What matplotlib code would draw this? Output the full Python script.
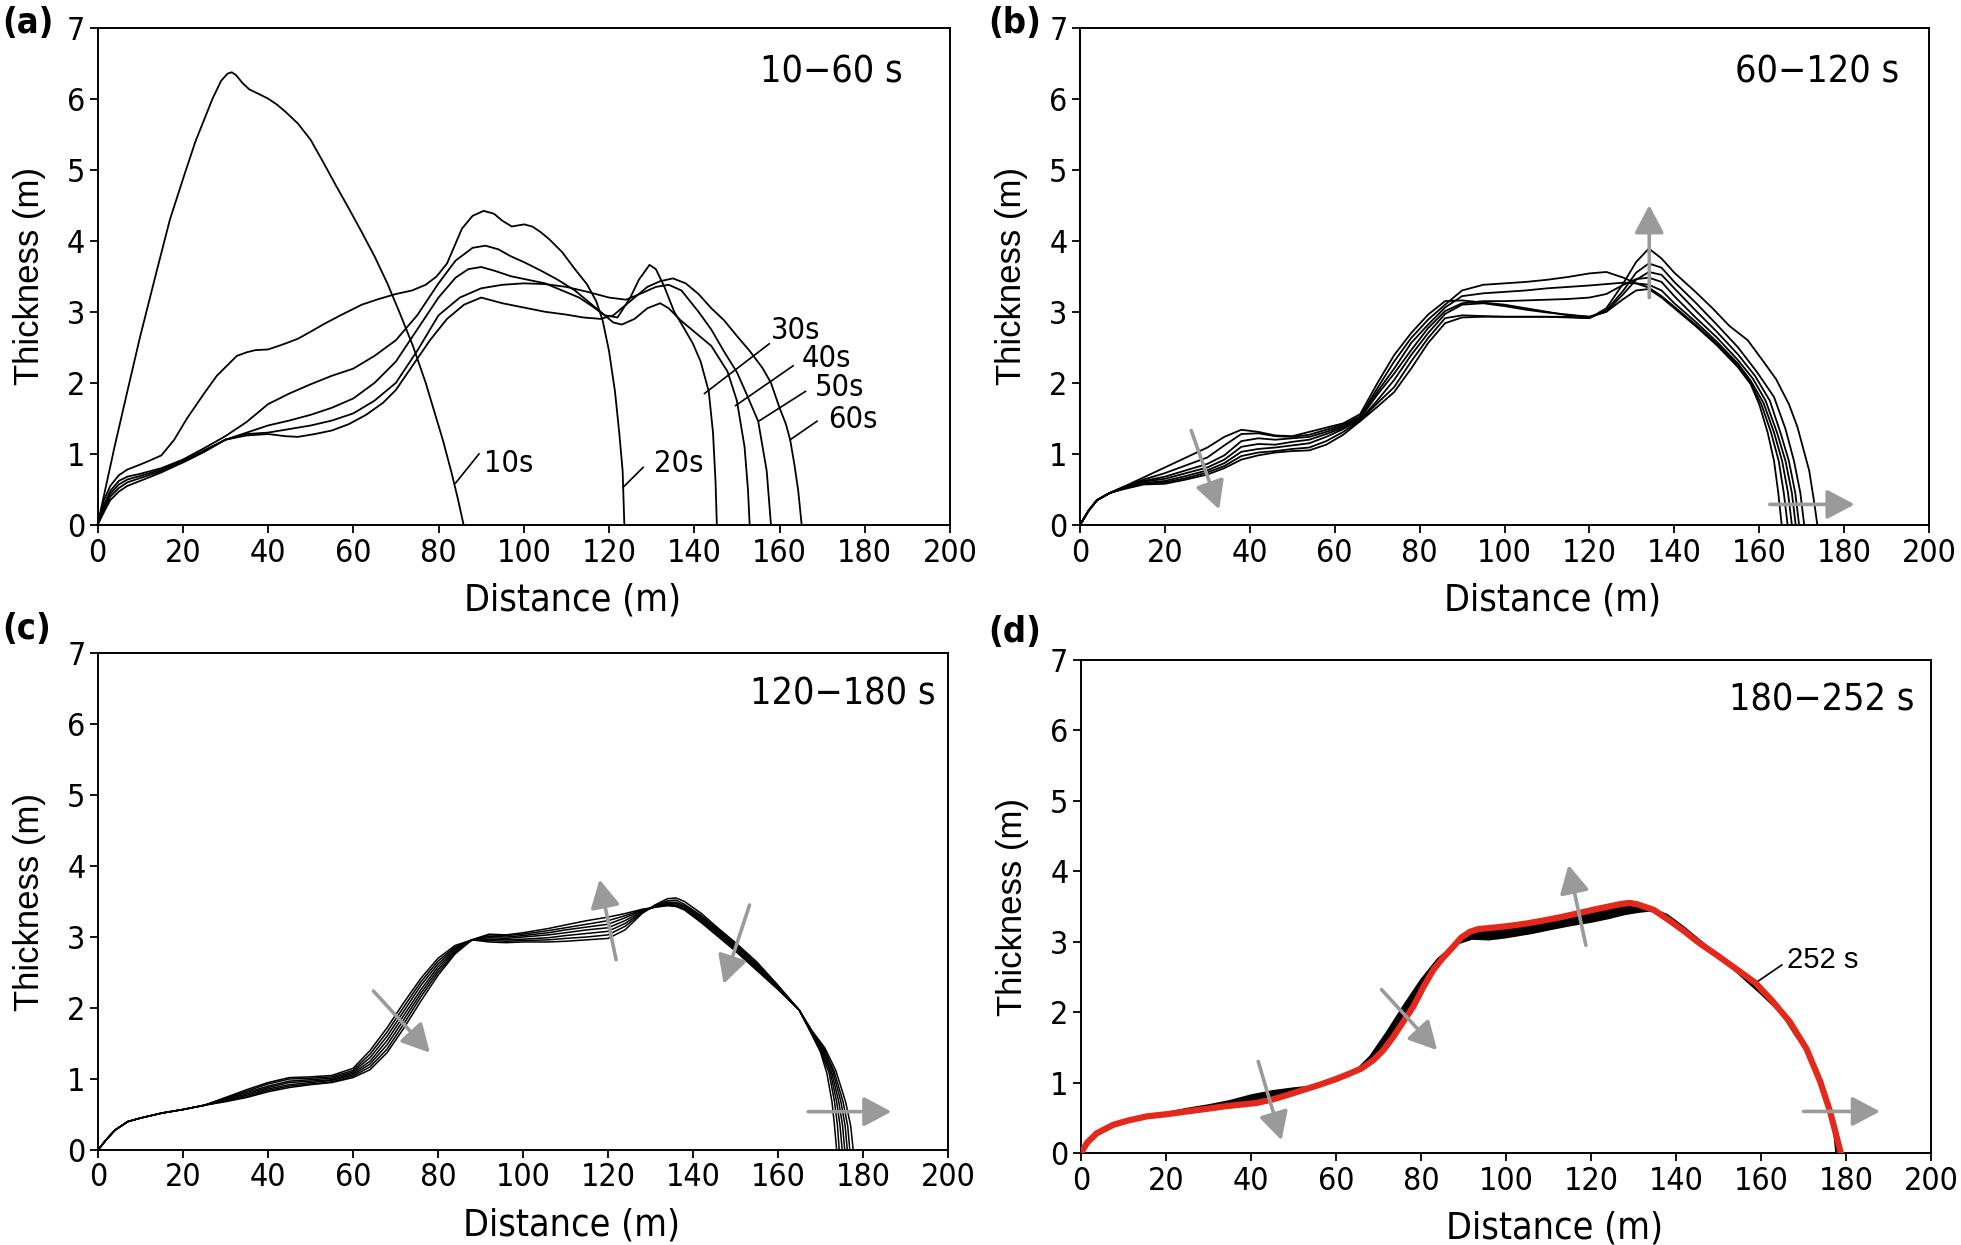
import matplotlib
matplotlib.use('Agg')
import matplotlib.pyplot as plt
import numpy as np

narrow = ['DejaVu Sans']
wide = ['Liberation Sans', 'DejaVu Sans']
plt.rcParams['font.family'] = narrow
plt.rcParams['font.stretch'] = 'condensed'

# ---------------- (a) 10-60 s ----------------
a_labels = ['10s', '20s', '30s', '40s', '50s', '60s']
a_x = [
    [0, 2, 4, 7, 10, 14, 17, 20.5, 23, 25, 27, 29, 30.5, 31.5, 32.5, 34, 35.6, 38, 40, 42,
     44, 47, 50, 53, 56, 59, 62, 65, 68, 71, 74, 77, 79, 81, 83, 84.5, 85.9],
    [0, 1.5, 3, 5, 7, 10, 12, 15, 18, 21, 25, 28, 32.7, 35, 37, 40, 43, 47, 50, 53.2,
     57, 62, 66, 70, 73.8, 77, 79.6, 82, 85.5, 88, 90.6, 93, 95, 97.2, 100.1,
     102, 104, 106, 109, 112, 114.8, 117, 118.5, 120, 121.4, 122.4, 123.2, 123.6],
    [0, 1, 2, 3, 5, 7, 10, 15, 20, 25, 30, 35, 40, 45, 50, 55, 60, 65, 70, 75,
     80, 84, 88, 91, 94, 97, 100, 104, 108, 112, 116, 119, 122, 125, 127,
     129.5, 131, 133, 135.3, 137.5, 139.7, 141.5, 143.4, 144.4, 145, 145.3],
    [0, 1, 2, 3, 5, 7, 10, 15, 20, 25, 30, 35, 40, 45, 50, 55, 60, 65, 70, 75,
     80, 84, 87, 90, 93, 97, 101, 105, 109, 113, 116, 119, 121, 123, 126,
     129, 132, 134, 136.8, 140, 144, 147.8, 150, 151.8, 152.6, 153],
    [0, 1, 2, 3, 5, 7, 10, 15, 20, 25, 30, 35, 40, 45, 50, 55, 60, 65, 70, 75,
     80, 85, 90, 95, 100, 105, 110, 115, 120, 124, 128, 131, 134, 137, 141,
     144, 147, 150, 152, 155, 157, 158],
    [0, 1, 2, 3, 5, 7, 10, 15, 20, 25, 30, 35, 40, 44, 47, 51, 55, 59, 63, 67,
     70, 74, 78, 82, 86, 90, 95, 100, 105, 110, 114, 118, 121, 125, 129,
     132, 135, 138, 141, 144, 147, 150, 153, 156, 158, 160, 161.5, 162.5, 163.5, 164.4, 165.2],
]
a_y = [
    [0, 0.55, 1.1, 1.88, 2.65, 3.6, 4.3, 4.95, 5.4, 5.7, 6.0, 6.25, 6.35, 6.37, 6.33, 6.22, 6.13, 6.06, 6.0, 5.92,
     5.82, 5.65, 5.42, 5.1, 4.77, 4.45, 4.12, 3.78, 3.4, 2.97, 2.52, 2.0, 1.6, 1.2, 0.75, 0.38, 0],
    [0, 0.35, 0.55, 0.7, 0.78, 0.85, 0.9, 0.98, 1.2, 1.5, 1.85, 2.1, 2.38, 2.43, 2.46, 2.47, 2.53, 2.62, 2.72, 2.83,
     2.95, 3.1, 3.18, 3.25, 3.3, 3.38, 3.5, 3.68, 4.17, 4.35, 4.42, 4.38, 4.28, 4.2, 4.23,
     4.2, 4.12, 4.02, 3.84, 3.6, 3.39, 3.15, 2.88, 2.45, 1.88, 1.3, 0.76, 0],
    [0, 0.2, 0.35, 0.48, 0.62, 0.68, 0.72, 0.8, 0.92, 1.08, 1.25, 1.45, 1.7, 1.85, 1.98, 2.1, 2.2, 2.38, 2.6, 2.95,
     3.4, 3.72, 3.9, 3.93, 3.88, 3.78, 3.7, 3.58, 3.45, 3.3, 3.1, 2.95, 2.92, 3.2, 3.45,
     3.66, 3.6, 3.35, 3.0, 2.78, 2.55, 2.3, 1.88, 1.3, 0.6, 0],
    [0, 0.18, 0.32, 0.44, 0.57, 0.64, 0.69, 0.78, 0.9, 1.05, 1.2, 1.3, 1.4, 1.47, 1.55, 1.65, 1.78, 2.0, 2.3, 2.75,
     3.2, 3.48, 3.6, 3.63, 3.58, 3.5, 3.45, 3.4, 3.3, 3.2, 3.08, 2.95, 2.85, 2.82, 2.9,
     3.05, 3.12, 3.05, 2.88, 2.72, 2.52, 2.16, 1.75, 1.1, 0.5, 0],
    [0, 0.15, 0.28, 0.4, 0.52, 0.6, 0.66, 0.76, 0.88, 1.03, 1.2, 1.28, 1.3, 1.35, 1.4, 1.47, 1.57, 1.75, 2.0, 2.45,
     2.95, 3.2, 3.33, 3.38, 3.4, 3.39, 3.35, 3.28, 3.2, 3.17, 3.27, 3.35, 3.38, 3.3, 3.0,
     2.75, 2.44, 2.15, 1.88, 1.46, 0.76, 0],
    [0, 0.12, 0.24, 0.35, 0.47, 0.55, 0.62, 0.74, 0.88, 1.03, 1.2, 1.26, 1.28, 1.25, 1.24, 1.28, 1.33, 1.42, 1.55, 1.72,
     1.9, 2.25, 2.6, 2.9, 3.1, 3.2, 3.12, 3.06, 3.0, 2.96, 2.92, 2.9, 2.95, 3.15, 3.35,
     3.43, 3.47, 3.4, 3.25, 3.05, 2.88, 2.66, 2.45, 2.21, 2.0, 1.65, 1.42, 1.2, 0.85, 0.48, 0],
]

# ---------------- (b) 60-120 s, every 10 s ----------------
b_grid = [0, 2, 4, 7, 10, 15, 20, 25, 30, 34, 38, 42, 46, 50, 54, 58, 62, 66, 70, 74,
          78, 82, 86, 90, 95, 100, 105, 110, 115, 120, 124, 128, 131, 134]
b_start = [0, 0.2, 0.35, 0.45]
b_body = [
    [0.53, 0.67, 0.81, 0.95, 1.09, 1.24, 1.34, 1.31, 1.26, 1.25, 1.31, 1.37, 1.43, 1.56, 1.99, 2.39, 2.70, 2.96, 3.15, 3.16,
     3.13, 3.10, 3.05, 3.00, 2.95, 2.93, 3.00, 3.18, 3.30, 3.32],
    [0.53, 0.64, 0.73, 0.84, 0.95, 1.12, 1.28, 1.29, 1.25, 1.24, 1.27, 1.34, 1.41, 1.53, 1.92, 2.30, 2.63, 2.89, 3.10, 3.30,
     3.38, 3.40, 3.42, 3.45, 3.49, 3.54, 3.56, 3.48, 3.40, 3.34],
    [0.52, 0.62, 0.68, 0.77, 0.86, 0.98, 1.18, 1.22, 1.20, 1.22, 1.24, 1.31, 1.39, 1.51, 1.87, 2.20, 2.56, 2.82, 3.06, 3.22,
     3.26, 3.28, 3.30, 3.33, 3.35, 3.37, 3.39, 3.41, 3.40, 3.38],
    [0.52, 0.61, 0.65, 0.73, 0.81, 0.92, 1.10, 1.14, 1.13, 1.17, 1.20, 1.28, 1.37, 1.50, 1.83, 2.13, 2.46, 2.77, 3.01, 3.12,
     3.15, 3.15, 3.16, 3.17, 3.18, 3.20, 3.25, 3.38, 3.46, 3.48],
    [0.51, 0.59, 0.62, 0.69, 0.77, 0.87, 1.03, 1.07, 1.09, 1.12, 1.15, 1.24, 1.35, 1.48, 1.75, 2.04, 2.39, 2.70, 2.97, 3.10,
     3.12, 3.08, 3.03, 2.99, 2.96, 2.93, 3.00, 3.25, 3.45, 3.56],
    [0.51, 0.58, 0.60, 0.66, 0.74, 0.83, 0.97, 1.02, 1.04, 1.07, 1.09, 1.18, 1.31, 1.47, 1.71, 1.94, 2.30, 2.63, 2.91, 2.95,
     2.94, 2.93, 2.93, 2.93, 2.93, 2.91, 3.02, 3.30, 3.55, 3.68],
    [0.50, 0.57, 0.58, 0.64, 0.71, 0.80, 0.92, 0.98, 1.02, 1.04, 1.05, 1.13, 1.27, 1.46, 1.66, 1.87, 2.20, 2.56, 2.84, 2.92,
     2.93, 2.93, 2.93, 2.93, 2.92, 2.91, 3.05, 3.40, 3.70, 3.89],
]
b_tail_x = [
    [137, 140, 145, 150, 155, 158, 160, 162, 163.5, 164.5, 165.3],
    [137, 140, 145, 150, 155, 158, 160.5, 162.8, 164.6, 165.8, 166.7],
    [137, 140, 145, 150, 155, 158, 161, 163.5, 165.4, 166.8, 167.7],
    [137, 140, 145, 150, 155, 158.5, 161.5, 164.2, 166.2, 167.7, 168.6],
    [137, 140, 145, 150, 155, 159, 162.5, 165, 167, 168.5, 169.4],
    [137, 140, 145, 150, 155, 159.5, 163.5, 166.2, 168.2, 169.7, 170.6],
    [137, 140, 145, 149, 153, 157.3, 161, 164, 167, 169, 171.8, 173, 173.7],
]
b_tail_y = [
    [3.2, 3.05, 2.8, 2.53, 2.22, 1.98, 1.7, 1.3, 0.9, 0.45, 0],
    [3.22, 3.07, 2.82, 2.55, 2.24, 2.0, 1.7, 1.3, 0.9, 0.45, 0],
    [3.3, 3.12, 2.86, 2.58, 2.27, 2.03, 1.72, 1.3, 0.9, 0.45, 0],
    [3.42, 3.22, 2.92, 2.64, 2.32, 2.06, 1.75, 1.3, 0.9, 0.45, 0],
    [3.52, 3.33, 3.02, 2.72, 2.4, 2.1, 1.75, 1.3, 0.9, 0.45, 0],
    [3.62, 3.42, 3.13, 2.82, 2.5, 2.15, 1.8, 1.35, 0.9, 0.45, 0],
    [3.75, 3.55, 3.28, 3.05, 2.8, 2.6, 2.3, 2.05, 1.7, 1.38, 0.76, 0.3, 0],
]

# ---------------- (c) 120-180 s, every 10 s ----------------
c_grid = [0, 2, 4, 7, 10, 15, 20, 25, 30, 35, 40, 45, 50, 55, 60, 64, 68, 72, 76, 80,
          84, 88, 92, 96, 100, 106, 110, 115, 120, 124, 128, 131, 134, 136, 138, 142, 146, 150, 155, 160, 165]
c_start = [0, 0.15, 0.28, 0.40, 0.45, 0.52, 0.57, 0.63]
c_body = [
    [0.74, 0.85, 0.95, 1.02, 1.03, 1.05, 1.15, 1.40, 1.72, 2.08, 2.42, 2.70, 2.88, 2.96, 2.93, 2.92, 2.93, 2.93, 2.94, 2.96,
     2.98, 3.10, 3.33, 3.45, 3.54, 3.55, 3.50, 3.33, 3.12, 2.92, 2.65, 2.32, 1.97],
    [0.73, 0.83, 0.93, 1.00, 1.01, 1.03, 1.12, 1.35, 1.66, 2.02, 2.37, 2.66, 2.86, 2.96, 2.95, 2.94, 2.95, 2.96, 2.98, 3.00,
     3.03, 3.15, 3.34, 3.44, 3.51, 3.52, 3.46, 3.30, 3.10, 2.90, 2.63, 2.31, 1.97],
    [0.72, 0.81, 0.90, 0.97, 0.99, 1.01, 1.10, 1.30, 1.60, 1.96, 2.32, 2.62, 2.84, 2.96, 2.97, 2.96, 2.97, 2.99, 3.02, 3.05,
     3.08, 3.19, 3.35, 3.43, 3.49, 3.49, 3.44, 3.28, 3.08, 2.88, 2.61, 2.30, 1.97],
    [0.71, 0.79, 0.88, 0.95, 0.97, 0.99, 1.08, 1.25, 1.54, 1.90, 2.26, 2.58, 2.82, 2.96, 2.99, 2.98, 3.00, 3.03, 3.06, 3.10,
     3.13, 3.23, 3.36, 3.43, 3.47, 3.47, 3.42, 3.26, 3.06, 2.86, 2.59, 2.29, 1.97],
    [0.70, 0.77, 0.86, 0.92, 0.95, 0.98, 1.06, 1.21, 1.48, 1.84, 2.21, 2.54, 2.80, 2.96, 3.01, 3.00, 3.02, 3.06, 3.10, 3.14,
     3.18, 3.27, 3.37, 3.42, 3.46, 3.45, 3.40, 3.24, 3.04, 2.84, 2.57, 2.28, 1.97],
    [0.69, 0.75, 0.84, 0.90, 0.93, 0.96, 1.04, 1.17, 1.42, 1.78, 2.16, 2.50, 2.78, 2.96, 3.03, 3.02, 3.04, 3.09, 3.13, 3.18,
     3.23, 3.30, 3.38, 3.42, 3.45, 3.44, 3.39, 3.22, 3.02, 2.82, 2.55, 2.27, 1.97],
    [0.68, 0.74, 0.82, 0.88, 0.92, 0.95, 1.02, 1.13, 1.37, 1.72, 2.10, 2.46, 2.76, 2.96, 3.04, 3.03, 3.06, 3.12, 3.17, 3.23,
     3.28, 3.33, 3.39, 3.42, 3.44, 3.43, 3.38, 3.20, 3.00, 2.80, 2.53, 2.26, 1.97],
]
c_tail_x = [
    [168, 170, 171.5, 172.7, 173.3, 173.8],
    [168, 170, 172, 173.3, 174, 174.4],
    [168, 170.2, 172.3, 173.8, 174.6, 175.1],
    [168, 170.4, 172.6, 174.3, 175.2, 175.7],
    [168, 170.6, 172.9, 174.8, 175.8, 176.3],
    [168, 170.8, 173.2, 175.3, 176.4, 176.9],
    [168, 171, 173.6, 175.9, 177.1, 177.7],
]
c_tail_y = [
    [1.62, 1.38, 1.08, 0.68, 0.34, 0],
    [1.63, 1.39, 1.09, 0.68, 0.34, 0],
    [1.64, 1.40, 1.10, 0.68, 0.34, 0],
    [1.65, 1.41, 1.10, 0.68, 0.34, 0],
    [1.66, 1.42, 1.11, 0.68, 0.34, 0],
    [1.67, 1.43, 1.11, 0.68, 0.34, 0],
    [1.68, 1.44, 1.12, 0.68, 0.34, 0],
]

# ---------------- (d) 180-252 s: band from 180 s profile to final 252 s profile ----------------
d_x_252 = [0, 1.5, 3.7, 7.6, 11, 15.5, 20, 24.9, 30, 33.5, 38, 41.3, 45, 48.4, 52, 56.2, 60, 62.5, 66, 68.8,
           71, 73.5, 76, 78.2, 80.5, 82.9, 85, 87.6, 89.5, 91.5, 93.5, 95.5, 98.6, 100.2, 105, 109.6, 113, 117.4,
           121, 125, 127.5, 129.2, 131, 134.8, 138, 141.7, 145.5, 149.6, 154, 158.6, 162.5, 166.8, 170.7,
           173.9, 176.3, 177.5, 178.6, 178.8]
d_y_252 = [0, 0.15, 0.28, 0.40, 0.46, 0.52, 0.55, 0.59, 0.63, 0.66, 0.69, 0.71, 0.76, 0.82, 0.89, 0.97, 1.05, 1.11, 1.2, 1.32,
           1.45, 1.65, 1.88, 2.08, 2.35, 2.6, 2.76, 2.93, 3.06, 3.14, 3.18, 3.19, 3.21, 3.22, 3.26, 3.31, 3.35, 3.41,
           3.46, 3.51, 3.54, 3.55, 3.53, 3.45, 3.32, 3.16, 2.98, 2.81, 2.62, 2.42, 2.17, 1.86, 1.48,
           1.02, 0.58, 0.3, 0.04, 0]


def build(grid, start, body, tx, ty):
    return list(grid) + list(tx), list(start) + list(body) + list(ty)


fig = plt.figure(figsize=(19.61, 12.45), dpi=100)
rects = [
    [97.5 / 1961, 1 - 525 / 1245, 852.5 / 1961, 497.5 / 1245],
    [1080 / 1961, 1 - 525 / 1245, 849 / 1961, 497.5 / 1245],
    [98 / 1961, 1 - 1150 / 1245, 850 / 1961, 497 / 1245],
    [1081 / 1961, 1 - 1153 / 1245, 850 / 1961, 493 / 1245],
]
axes = [fig.add_axes(r) for r in rects]

gray = '#9a9a9a'
red = '#e3291b'


def arrow(ax, tail, head):
    ax.annotate('', xy=head, xytext=tail,
                arrowprops=dict(arrowstyle='-|>,head_length=0.85,head_width=0.45',
                                color=gray, lw=2.6, shrinkA=0, shrinkB=0, mutation_scale=20),
                zorder=5)


for ax in axes:
    ax.set_xlim(0, 200)
    ax.set_ylim(0, 7)
    ax.set_xticks(np.arange(0, 201, 20))
    ax.set_yticks(np.arange(0, 8, 1))
    ax.tick_params(direction='out', length=6, width=1.3, labelsize=23, pad=3)
    for s in ax.spines.values():
        s.set_linewidth(1.4)
    ax.set_xlabel('Distance (m)', fontsize=27, labelpad=10)
    ax.xaxis.label.set_x(0.557)
    ax.set_ylabel('Thickness (m)', fontsize=25, family=wide, stretch='normal', labelpad=15)

# (a)
ax = axes[0]
for xs, ys in zip(a_x, a_y):
    ax.plot(xs, ys, color='black', lw=1.3, clip_on=False)
leaders = [((84, 0.59), (89.5, 1.0)), ((123.3, 0.53), (128, 0.81)), ((142.4, 1.85), (157.6, 2.55)),
           ((149.7, 1.68), (163.2, 2.24)), ((155.1, 1.46), (166.1, 1.88)), ((162.5, 1.2), (168.8, 1.46))]
text_pos = [(90.6, 0.87), (130.5, 0.87), (158, 2.74), (165.1, 2.34), (168.3, 1.93), (171.3, 1.48)]
for lab, (p0, p1), tp in zip(a_labels, leaders, text_pos):
    ax.plot([p0[0], p1[0]], [p0[1], p1[1]], color='black', lw=1.2)
    ax.text(tp[0], tp[1], lab, fontsize=22, ha='left', va='center')
ax.text(189, 6.37, '10\u221260 s', fontsize=27, ha='right', va='center')

# (b)
ax = axes[1]
for i in range(len(b_body)):
    xs, ys = build(b_grid, b_start, b_body[i], b_tail_x[i], b_tail_y[i])
    ax.plot(xs, ys, color='black', lw=1.3)
arrow(ax, (26.2, 1.33), (32.8, 0.22))
arrow(ax, (134.1, 3.2), (134.1, 4.5))
arrow(ax, (162.5, 0.29), (182.5, 0.29))
ax.text(193, 6.37, '60\u2212120 s', fontsize=27, ha='right', va='center')

# (c)
ax = axes[2]
for i in range(len(c_body)):
    xs, ys = build(c_grid, c_start, c_body[i], c_tail_x[i], c_tail_y[i])
    ax.plot(xs, ys, color='black', lw=1.1)
arrow(ax, (64.8, 2.24), (78.1, 1.37))
arrow(ax, (121.9, 2.68), (118.0, 3.81))
arrow(ax, (153.3, 3.45), (147.2, 2.34))
arrow(ax, (167.1, 0.54), (186.7, 0.54))
ax.text(197, 6.41, '120\u2212180 s', fontsize=27, ha='right', va='center')

# (d)
ax = axes[3]
x180, y180 = build(c_grid, c_start, c_body[-1], c_tail_x[-1], c_tail_y[-1])
ax.fill(x180 + d_x_252[::-1], y180 + d_y_252[::-1], color='black', lw=0)
ax.plot(x180, y180, color='black', lw=1.3)
ax.plot(d_x_252, d_y_252, color=red, lw=4.5, solid_capstyle='round', zorder=4)
arrow(ax, (41.7, 1.30), (47.2, 0.18))
arrow(ax, (70.7, 2.32), (83.8, 1.46))
arrow(ax, (118.8, 2.95), (114.7, 4.09))
arrow(ax, (170.0, 0.59), (188.0, 0.59))
ax.plot([158.6, 164.9], [2.41, 2.67], color='black', lw=1.2, zorder=3)
ax.text(166.1, 2.74, '252 s', fontsize=21, family=wide, stretch='normal', ha='left', va='center')
ax.text(196, 6.43, '180\u2212252 s', fontsize=27, ha='right', va='center')

# panel letters
for lab, (px, py) in zip(['(a)', '(b)', '(c)', '(d)'], [(2, 6), (988, 6), (2, 612), (988, 615)]):
    fig.text(px / 1961, 1 - py / 1245, lab, fontsize=26, fontweight='bold', ha='left', va='top')

fig.savefig('out.png', dpi=100)
